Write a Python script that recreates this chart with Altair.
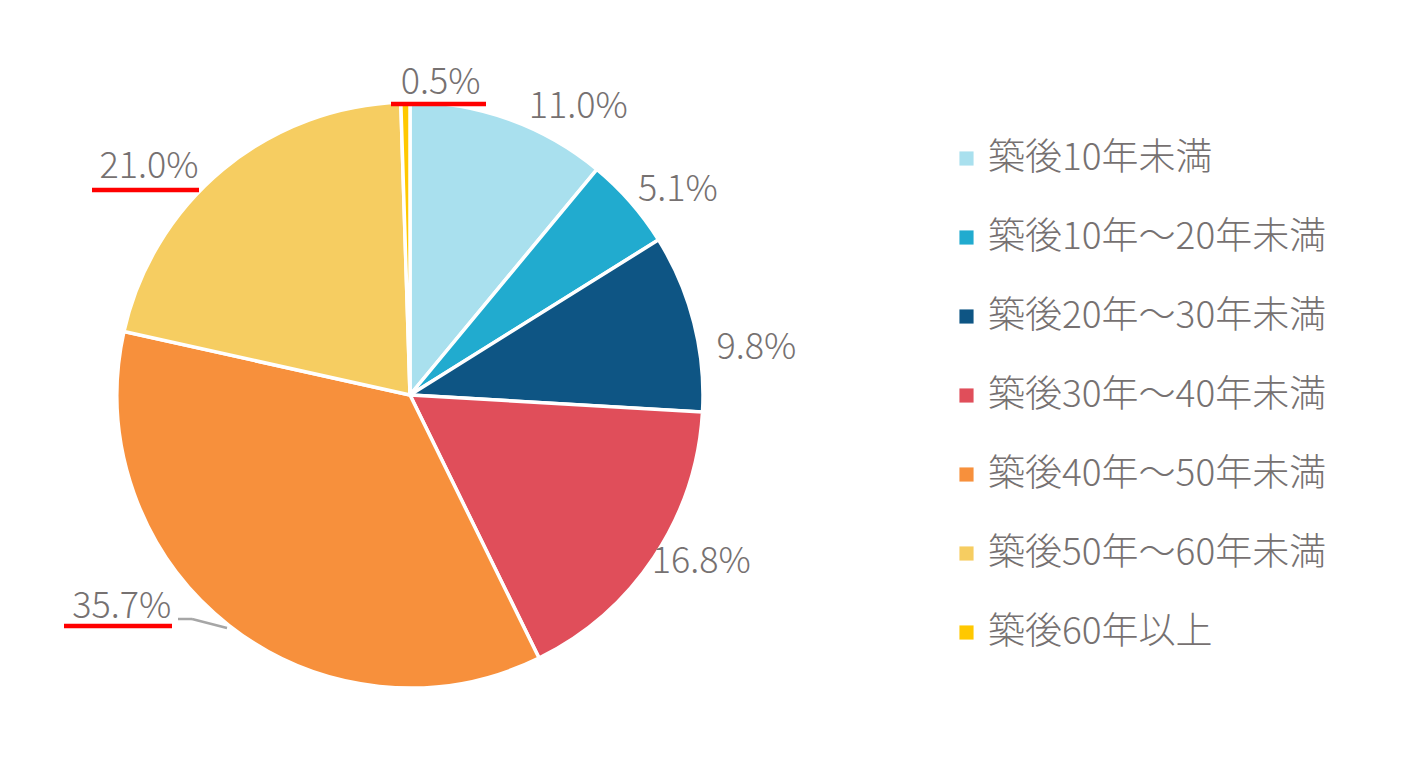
import altair as alt
import pandas as pd

categories = ["築後10年未満", "築後10年～20年未満", "築後20年～30年未満", "築後30年～40年未満",
              "築後40年～50年未満", "築後50年～60年未満", "築後60年以上"]
values = [11.0, 5.1, 9.8, 16.8, 35.7, 21.0, 0.5]
labels = ["11.0%", "5.1%", "9.8%", "16.8%", "35.7%", "21.0%", "0.5%"]
colors = ["#A9E0EE", "#21ABCF", "#0E5584", "#E04E5A", "#F7903C", "#F6CD61", "#FFC800"]

df = pd.DataFrame({"cat": categories, "value": values, "label": labels,
                   "idx": list(range(len(categories)))})

FONT = "Noto Sans CJK JP"
GRAY = "#767171"
CX, CY, R = 402, 387, 293

base = alt.Chart(df).encode(
    theta=alt.Theta("value:Q", stack=True),
    order=alt.Order("idx:Q"),
)

arc = base.mark_arc(radius=R, stroke="white", strokeWidth=3.5).encode(
    x=alt.value(CX), y=alt.value(CY),
    color=alt.Color("cat:N", sort=categories,
                    scale=alt.Scale(domain=categories, range=colors),
                    legend=alt.Legend(title=None, orient="none", legendX=940, legendY=132,
                                      symbolType="square", symbolSize=200, symbolStrokeWidth=0,
                                      labelFontSize=37, labelFont=FONT, labelColor=GRAY,
                                      labelFontWeight=300,
                                      labelOffset=3, rowPadding=41, labelLimit=600)),
)

offsets = {"11.0%": (53, 32), "5.1%": (12, 19), "9.8%": (17, 37), "16.8%": (8, -21),
           "35.7%": (-78, -55), "21.0%": (-44, 34), "0.5%": (36, 28)}

text_layers = []
for lab, (dx, dy) in offsets.items():
    t = base.mark_text(radius=340, fontSize=36, font=FONT, color=GRAY, fontWeight=300,
                       align="center", baseline="middle", dx=dx, dy=dy).encode(
        x=alt.value(CX), y=alt.value(CY),
        text=alt.condition(alt.datum.label == lab, "label:N", alt.value("")),
    )
    text_layers.append(t)

# red underline annotations
def rule(x1, x2, y1, y2, color, w):
    return alt.Chart(df.head(1)).mark_rule(color=color, strokeWidth=w).encode(
        x=alt.value(x1), x2=alt.value(x2), y=alt.value(y1), y2=alt.value(y2))

underlines = [
    rule(383, 478, 96, 96, "#FF0000", 4.5),
    rule(84, 191, 182, 182, "#FF0000", 4.5),
    rule(56, 164, 618, 618, "#FF0000", 4.5),
]
leader = [
    rule(170, 184, 611, 611, "#A6A6A6", 2.5),
    rule(184, 219, 611, 620, "#A6A6A6", 2.5),
]

chart = alt.layer(arc, *text_layers, *underlines, *leader).properties(
    width=1395, height=740, padding=0,
    autosize=alt.AutoSizeParams(type="none"),
).configure_view(stroke=None)

chart.save("out.html", embed_options={"renderer": "svg", "actions": False})
